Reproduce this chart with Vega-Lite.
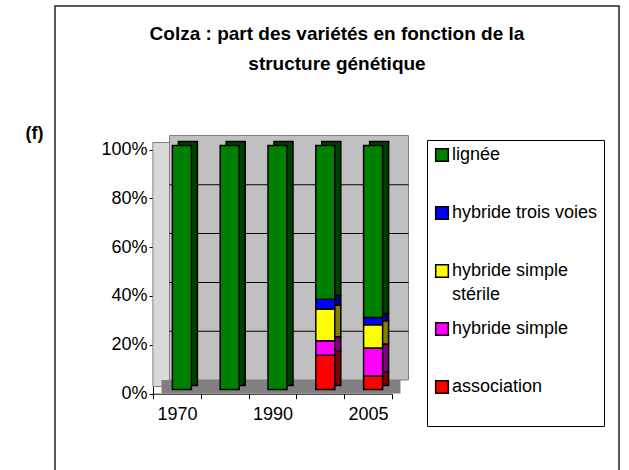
{
  "$schema": "https://vega.github.io/schema/vega-lite/v6.json",
  "width": 564,
  "height": 470,
  "autosize": {"type": "none"},
  "padding": {"left": 55, "top": 6, "right": 10, "bottom": 0},
  "background": "white",
  "config": {
    "font": "Liberation Sans",
    "view": {"stroke": "#222222", "strokeWidth": 1.5},
    "axisX": {
      "offset": -82.3,
      "tickBand": "extent",
      "tickSize": 5,
      "tickColor": "black",
      "domainColor": "black",
      "labelColor": "black",
      "labelFontSize": 18,
      "labelPadding": 7,
      "labelAngle": 0,
      "labelExpr": "datum.value == '1980' || datum.value == '2000' ? '' : datum.value",
      "grid": false
    },
    "axisY": {
      "offset": -98,
      "tickSize": 4,
      "tickCount": 5,
      "tickColor": "black",
      "domainColor": "black",
      "labelColor": "black",
      "labelFontSize": 18,
      "labelPadding": 2,
      "labelExpr": "datum.value + '%'",
      "grid": false,
      "titleAngle": 0,
      "titleX": -119,
      "titleY": 127,
      "titleAlign": "center",
      "titleBaseline": "middle",
      "titleFontSize": 18,
      "titleFontWeight": "bold",
      "titleColor": "black"
    }
  },
  "title": {
    "text": ["Colza : part des variétés en fonction de la", "structure génétique"],
    "frame": "group",
    "anchor": "middle",
    "fontSize": 19,
    "fontWeight": "bold",
    "color": "black",
    "lineHeight": 30,
    "offset": -68
  },
  "datasets": {
    "shares": [
      {"year": "1970", "variety": "lignée", "share": 100},
      {"year": "1980", "variety": "lignée", "share": 100},
      {"year": "1990", "variety": "lignée", "share": 100},
      {"year": "2000", "variety": "association", "share": 14},
      {"year": "2000", "variety": "hybride simple", "share": 6},
      {"year": "2000", "variety": "hybride simple stérile", "share": 13},
      {"year": "2000", "variety": "hybride trois voies", "share": 4},
      {"year": "2000", "variety": "lignée", "share": 63},
      {"year": "2005", "variety": "association", "share": 5.5},
      {"year": "2005", "variety": "hybride simple", "share": 11.5},
      {"year": "2005", "variety": "hybride simple stérile", "share": 9.5},
      {"year": "2005", "variety": "hybride trois voies", "share": 3},
      {"year": "2005", "variety": "lignée", "share": 70.5}
    ],
    "grid": [{"v": 20}, {"v": 40}, {"v": 60}, {"v": 80}],
    "one": [{"k": 1}]
  },
  "layer": [
    {
      "data": {"name": "one"},
      "mark": {"type": "bar", "width": 17, "xOffset": -15.5, "yOffset": -7, "y2Offset": -7, "fill": "#d9d9d9", "stroke": "#808080", "strokeWidth": 1},
      "encoding": {
        "x": {"datum": "1970", "type": "ordinal", "scale": {"type": "band", "domain": ["1970", "1980", "1990", "2000", "2005"], "range": [98, 337], "paddingInner": 0, "paddingOuter": 0}},
        "y": {"datum": 100, "type": "quantitative", "scale": {"domain": [0, 100], "range": [387.5, 143.5], "nice": false, "zero": false}},
        "y2": {"datum": 0}
      }
    },
    {
      "data": {"name": "one"},
      "mark": {"type": "bar", "width": 239, "xOffset": 16.5, "yOffset": -14, "y2Offset": -13.5, "fill": "#c0c0c0", "stroke": "#808080", "strokeWidth": 1},
      "encoding": {
        "x": {"datum": "1990", "type": "ordinal"},
        "y": {"datum": 100, "type": "quantitative"},
        "y2": {"datum": 0}
      }
    },
    {
      "data": {"name": "one"},
      "mark": {"type": "bar", "width": 239, "xOffset": 8.5, "yOffset": -13.5, "y2Offset": 0, "fill": "#808080"},
      "encoding": {
        "x": {"datum": "1990", "type": "ordinal"},
        "y": {"datum": 0, "type": "quantitative"},
        "y2": {"datum": 0}
      }
    },
    {
      "data": {"name": "grid"},
      "mark": {"type": "tick", "color": "black", "thickness": 1, "size": 239, "xOffset": 16.5, "yOffset": -13.5, "opacity": 1},
      "encoding": {
        "x": {"datum": "1990", "type": "ordinal"},
        "y": {"field": "v", "type": "quantitative"}
      }
    },
    {
      "data": {"name": "shares"},
      "mark": {"type": "bar", "width": 19, "xOffset": 11, "yOffset": -8, "y2Offset": -8, "stroke": "black", "strokeWidth": 1.5, "strokeOpacity": 1},
      "encoding": {
        "x": {"field": "year", "type": "ordinal", "axis": {"title": null}},
        "y": {"field": "share", "type": "quantitative", "stack": "zero", "axis": {"title": "(f)"}},
        "color": {
          "field": "variety", "type": "nominal",
          "scale": {"domain": ["lignée", "hybride trois voies", "hybride simple stérile", "hybride simple", "association"], "range": ["#004000", "#000080", "#808000", "#800080", "#800000"]},
          "legend": null
        },
        "fillOpacity": {"value": 1},
        "order": {"field": "variety", "sort": "ascending"}
      }
    },
    {
      "data": {"name": "shares"},
      "mark": {"type": "bar", "width": 19, "xOffset": 5, "yOffset": -4, "y2Offset": -4, "stroke": "black", "strokeWidth": 1.5, "strokeOpacity": 1},
      "encoding": {
        "x": {"field": "year", "type": "ordinal", "axis": {"title": null}},
        "y": {"field": "share", "type": "quantitative", "stack": "zero", "axis": {"title": "(f)"}},
        "color": {
          "field": "variety", "type": "nominal",
          "scale": {"domain": ["lignée", "hybride trois voies", "hybride simple stérile", "hybride simple", "association"], "range": ["#008000", "#0000ff", "#ffff00", "#ff00ff", "#ff0000"]},
          "legend": {
            "orient": "none",
            "legendX": 372,
            "legendY": 134,
            "title": null,
            "strokeColor": "black",
            "padding": 6,
            "symbolType": "square",
            "symbolSize": 160,
            "symbolStrokeColor": "black",
            "symbolStrokeWidth": 1.5,
            "symbolOpacity": 1,
            "labelFontSize": 18,
            "labelColor": "black",
            "labelOffset": 1,
            "labelLimit": 300,
            "rowPadding": 15,
            "labelExpr": "datum.label == 'hybride simple stérile' ? ['hybride simple', 'stérile'] : [datum.label, ' ']",
            "encode": {"labels": {"update": {"lineHeight": {"value": 24}}}}
          }
        },
        "fillOpacity": {"value": 1},
        "order": {"field": "variety", "sort": "ascending"}
      }
    }
  ],
  "resolve": {"scale": {"color": "independent"}}
}
